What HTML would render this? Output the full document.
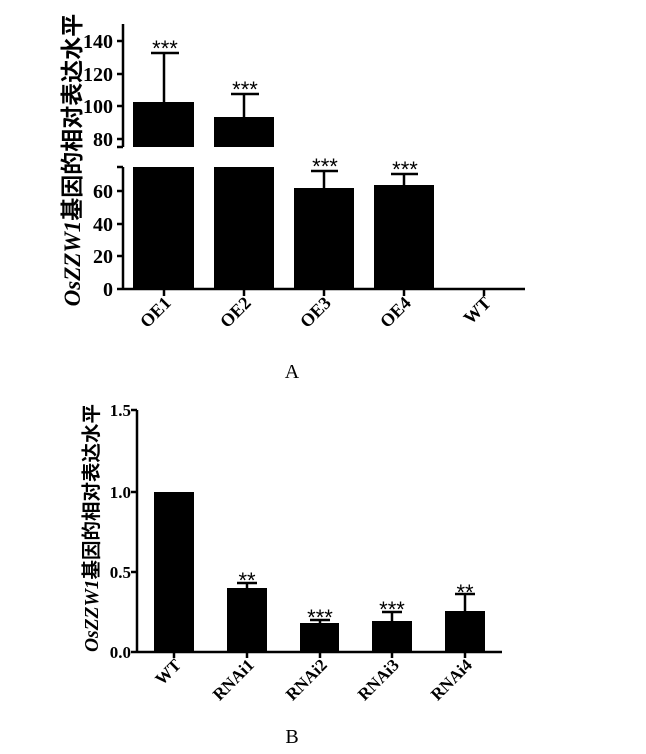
<!DOCTYPE html>
<html><head><meta charset="utf-8"><style>
html,body{margin:0;padding:0;background:#fff;}
svg{display:block;}
.t{font-family:"Liberation Serif",serif;font-weight:bold;}
.s{font-family:"Liberation Sans",sans-serif;}
</style></head><body>
<svg width="646" height="754" viewBox="0 0 646 754" xmlns="http://www.w3.org/2000/svg">
<g stroke="#000" stroke-width="2.5" fill="none">
<line x1="123" y1="24" x2="123" y2="147"/>
<line x1="123" y1="167" x2="123" y2="290"/>
<line x1="117" y1="147" x2="123" y2="147"/>
<line x1="117" y1="167" x2="123" y2="167"/>
<line x1="117" y1="289" x2="525" y2="289"/>
<line x1="117" y1="41" x2="123" y2="41"/><line x1="117" y1="74" x2="123" y2="74"/>
<line x1="117" y1="106" x2="123" y2="106"/><line x1="117" y1="139" x2="123" y2="139"/>
<line x1="117" y1="191" x2="123" y2="191"/><line x1="117" y1="224" x2="123" y2="224"/>
<line x1="117" y1="256" x2="123" y2="256"/>
<line x1="164" y1="289" x2="164" y2="296"/><line x1="244" y1="289" x2="244" y2="296"/>
<line x1="324" y1="289" x2="324" y2="296"/><line x1="404" y1="289" x2="404" y2="296"/>
<line x1="484" y1="289" x2="484" y2="296"/>
<line x1="164" y1="53" x2="164" y2="102"/><line x1="151" y1="53" x2="179" y2="53"/>
<line x1="244" y1="94" x2="244" y2="117"/><line x1="231" y1="94" x2="259" y2="94"/>
<line x1="324" y1="171" x2="324" y2="188"/><line x1="311" y1="171" x2="338" y2="171"/>
<line x1="404" y1="174" x2="404" y2="185"/><line x1="391" y1="174" x2="418" y2="174"/>
<line x1="137" y1="410" x2="137" y2="653"/>
<line x1="137" y1="652" x2="502" y2="652"/>
<line x1="131" y1="410" x2="137" y2="410"/><line x1="131" y1="492" x2="137" y2="492"/>
<line x1="131" y1="572" x2="137" y2="572"/><line x1="131" y1="652" x2="137" y2="652"/>
<line x1="174" y1="652" x2="174" y2="658"/><line x1="247" y1="652" x2="247" y2="658"/>
<line x1="320" y1="652" x2="320" y2="658"/><line x1="392" y1="652" x2="392" y2="658"/>
<line x1="465" y1="652" x2="465" y2="658"/>
<line x1="247" y1="583" x2="247" y2="588"/><line x1="237" y1="583" x2="257" y2="583"/>
<line x1="320" y1="620" x2="320" y2="623"/><line x1="310" y1="620" x2="330" y2="620"/>
<line x1="392" y1="612" x2="392" y2="621"/><line x1="382" y1="612" x2="402" y2="612"/>
<line x1="465" y1="594" x2="465" y2="611"/><line x1="455" y1="594" x2="475" y2="594"/>
</g>
<g fill="#000">
<rect x="133" y="102" width="61" height="45"/><rect x="133" y="167" width="61" height="122"/>
<rect x="214" y="117" width="60" height="30"/><rect x="214" y="167" width="60" height="122"/>
<rect x="294" y="188" width="60" height="101"/>
<rect x="374" y="185" width="60" height="104"/>
<rect x="154" y="492" width="40" height="160"/>
<rect x="227" y="588" width="40" height="64"/>
<rect x="300" y="623" width="39" height="29"/>
<rect x="372" y="621" width="40" height="31"/>
<rect x="445" y="611" width="40" height="41"/>
</g>
<g class="t" font-size="20" text-anchor="end">
<text x="113" y="48">140</text><text x="113" y="81">120</text><text x="113" y="113">100</text><text x="113" y="146">80</text>
<text x="113" y="198">60</text><text x="113" y="231">40</text><text x="113" y="263">20</text><text x="113" y="296">0</text>
</g>
<g class="t" font-size="17" text-anchor="end">
<text x="131" y="416">1.5</text><text x="131" y="498">1.0</text><text x="131" y="578">0.5</text><text x="131" y="658">0.0</text>
</g>
<g class="s" font-size="22" text-anchor="middle">
<text x="165" y="56">***</text><text x="245" y="97">***</text><text x="325" y="174">***</text><text x="405" y="177">***</text>
<text x="247" y="588">**</text><text x="320" y="625">***</text><text x="392" y="617">***</text><text x="465" y="600">**</text>
</g>
<g class="t" font-size="18" text-anchor="end">
<text transform="translate(172,304) rotate(-45)">OE1</text>
<text transform="translate(252,304) rotate(-45)">OE2</text>
<text transform="translate(332,304) rotate(-45)">OE3</text>
<text transform="translate(412,304) rotate(-45)">OE4</text>
<text transform="translate(492,304) rotate(-45)">WT</text>
</g>
<g class="t" font-size="17" text-anchor="end">
<text transform="translate(182,666) rotate(-45)">WT</text>
<text transform="translate(255,666) rotate(-45)">RNAi1</text>
<text transform="translate(328,666) rotate(-45)">RNAi2</text>
<text transform="translate(400,666) rotate(-45)">RNAi3</text>
<text transform="translate(473,666) rotate(-45)">RNAi4</text>
</g>
<text x="72" y="160" transform="rotate(-90 72 160)" text-anchor="middle" dominant-baseline="central" font-size="23" font-weight="bold" font-family="'Liberation Sans','Noto Sans CJK SC',sans-serif"><tspan font-family="'Liberation Serif',serif" font-style="italic">OsZZW1</tspan>基因的相对表达水平</text>
<text x="92" y="528" transform="rotate(-90 92 528)" text-anchor="middle" dominant-baseline="central" font-size="19.5" font-weight="bold" font-family="'Liberation Sans','Noto Sans CJK SC',sans-serif"><tspan font-family="'Liberation Serif',serif" font-style="italic">OsZZW1</tspan>基因的相对表达水平</text>
<text x="292" y="378" text-anchor="middle" font-size="20" font-family="'Liberation Serif',serif">A</text>
<text x="292" y="743" text-anchor="middle" font-size="20" font-family="'Liberation Serif',serif">B</text>
</svg>
</body></html>
